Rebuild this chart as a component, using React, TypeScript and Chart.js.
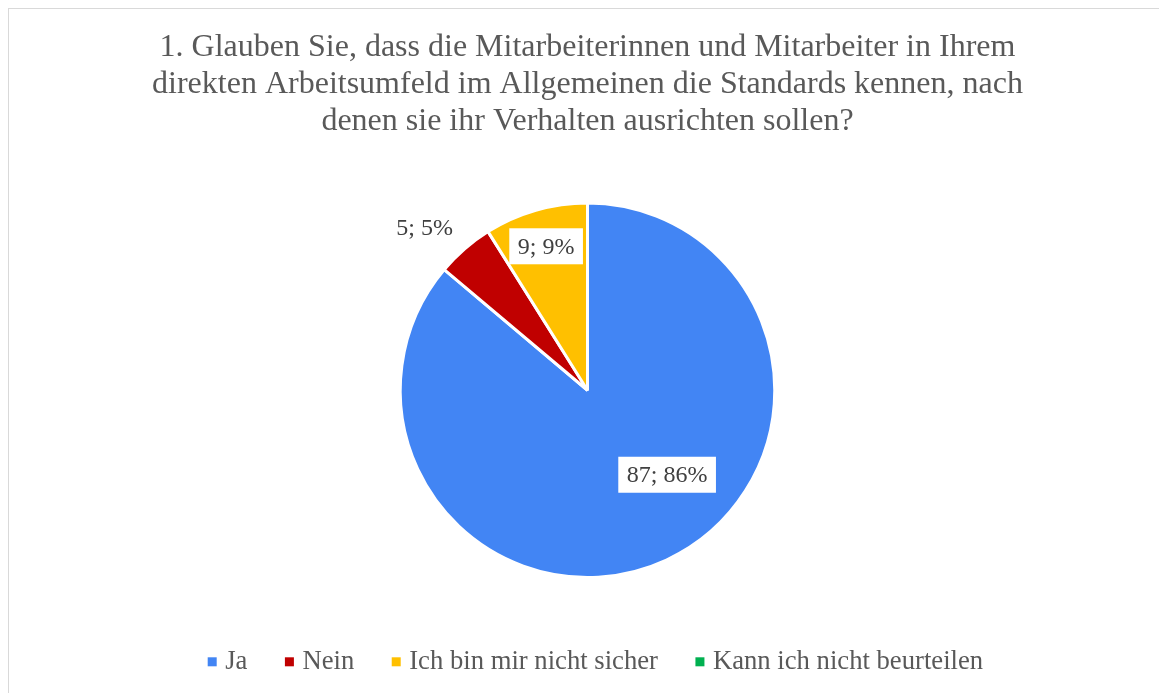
import React, { useEffect, useRef } from "react";
import { Chart, registerables } from "chart.js";

Chart.register(...registerables);

// ---- data ----
const categories = ["Ja", "Nein", "Ich bin mir nicht sicher", "Kann ich nicht beurteilen"];
const counts = [87, 5, 9, 0];
const sliceColors = ["#4285F4", "#C00000", "#FFC000", "#00B050"];
const titleLines = [
  "1. Glauben Sie, dass die Mitarbeiterinnen und Mitarbeiter in Ihrem",
  "direkten Arbeitsumfeld im Allgemeinen die Standards kennen, nach",
  "denen sie ihr Verhalten ausrichten sollen?",
];

// ---- styling / placement ----
const FONT = "'Liberation Serif', 'Times New Roman', serif";
const TITLE_COLOR = "#595959";
const LABEL_COLOR = "#404040";
// label placement per slice: angle in degrees (canvas convention, null = slice middle), distance as fraction of radius
const labelPlacement = [
  { angle: 46.7, dist: 0.62, boxed: true },
  { angle: 225, dist: 1.23, boxed: false },
  { angle: null, dist: 0.8, boxed: true },
  { angle: null, dist: 0.8, boxed: true },
];

const labelPlugin = {
  id: "sliceLabels",
  afterDatasetsDraw(chart: any) {
    const ctx = chart.ctx;
    const meta = chart.getDatasetMeta(0);
    const total = counts.reduce((a, b) => a + b, 0);
    ctx.save();
    ctx.font = `24px ${FONT}`;
    ctx.textAlign = "center";
    ctx.textBaseline = "middle";
    meta.data.forEach((arc: any, i: number) => {
      const v = counts[i];
      if (!v) return;
      const p = labelPlacement[i];
      const { x, y, startAngle, endAngle, outerRadius } = arc.getProps(
        ["x", "y", "startAngle", "endAngle", "outerRadius"],
        true
      );
      const a = p.angle == null ? (startAngle + endAngle) / 2 : (p.angle * Math.PI) / 180;
      const lx = x + Math.cos(a) * outerRadius * p.dist;
      const ly = y + Math.sin(a) * outerRadius * p.dist;
      const text = `${v}; ${Math.round((v / total) * 100)}%`;
      if (p.boxed) {
        const w = ctx.measureText(text).width + 17;
        const h = 36;
        ctx.fillStyle = "#FFFFFF";
        ctx.fillRect(lx - w / 2, ly - h / 2, w, h);
      }
      ctx.fillStyle = LABEL_COLOR;
      ctx.fillText(text, lx, ly + 1);
    });
    ctx.restore();
  },
};

const legendPlugin = {
  id: "bottomLegend",
  afterDraw(chart: any) {
    const ctx = chart.ctx;
    ctx.save();
    ctx.font = `26.67px ${FONT}`;
    const box = 9;
    const gapBoxText = 8.5;
    const gapItems = 37.5;
    const widths = categories.map((c) => ctx.measureText(c).width);
    const total =
      widths.reduce((s, w) => s + box + gapBoxText + w, 0) + gapItems * (categories.length - 1);
    let x = 586.4 - total / 2;
    const boxTop = 648.3;
    const baseline = 660.3;
    ctx.textBaseline = "alphabetic";
    ctx.textAlign = "left";
    categories.forEach((c, i) => {
      ctx.fillStyle = sliceColors[i];
      ctx.fillRect(x, boxTop, box, box);
      x += box + gapBoxText;
      ctx.fillStyle = TITLE_COLOR;
      ctx.fillText(c, x, baseline);
      x += widths[i] + gapItems;
    });
    ctx.restore();
  },
};

export default function App() {
  const ref = useRef<HTMLCanvasElement | null>(null);

  useEffect(() => {
    if (!ref.current) return;
    const chart = new Chart(ref.current, {
      type: "pie",
      data: {
        labels: categories,
        datasets: [
          {
            data: counts,
            backgroundColor: sliceColors,
            borderColor: "#FFFFFF",
            borderWidth: 3,
          },
        ],
      },
      options: {
        responsive: false,
        animation: false,
        layout: { padding: { top: 0, bottom: 120, left: 0, right: 0 } },
        plugins: {
          legend: { display: false },
          tooltip: { enabled: false },
          title: {
            display: true,
            text: titleLines,
            color: TITLE_COLOR,
            font: { family: FONT, size: 32, weight: "normal", lineHeight: 1.15 },
            padding: { top: 20.6, bottom: 61.5 },
          },
        },
      },
      plugins: [labelPlugin, legendPlugin],
    });
    return () => chart.destroy();
  }, []);

  return (
    <div
      style={{
        position: "fixed",
        left: 0,
        top: 0,
        width: "100vw",
        height: "100vh",
        overflow: "hidden",
        background: "#FFFFFF",
      }}
    >
      <div
        style={{
          position: "absolute",
          left: 8,
          top: 8,
          border: "1px solid #D9D9D9",
          width: 1157,
          height: 690,
          background: "#FFFFFF",
        }}
      >
        <canvas ref={ref} width={1157} height={690} style={{ display: "block" }} />
      </div>
    </div>
  );
}
